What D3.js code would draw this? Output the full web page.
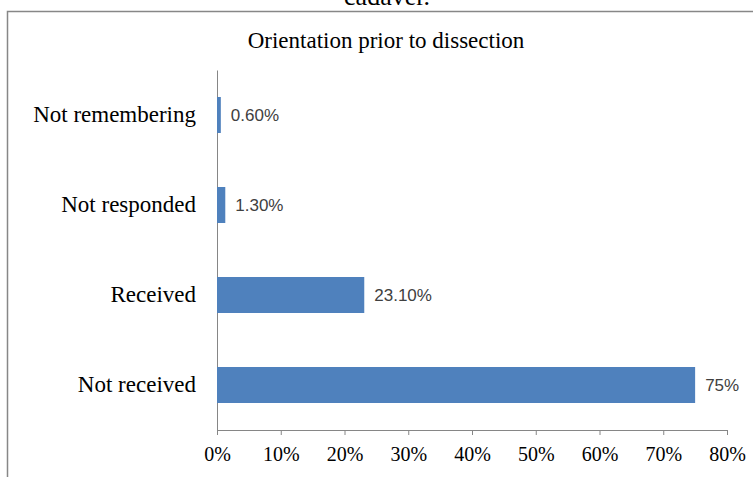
<!DOCTYPE html>
<html>
<head>
<meta charset="utf-8">
<script src="https://cdn.jsdelivr.net/npm/d3@7"></script>
<style>
    body { margin: 0; background: #fff; }
    svg { display: block; }
</style>
</head>
<body>
<svg id="barChart" width="753" height="477"></svg>
<script>
// data
var categories = ["Not remembering", "Not responded", "Received", "Not received"];
var values = [0.6, 1.3, 23.1, 75];
var valueLabels = ["0.60%", "1.30%", "23.10%", "75%"];
var ticks = [0, 10, 20, 30, 40, 50, 60, 70, 80];

(function barChart() {
    var svg = d3.select("#barChart");

    var left = 217, right = 727, top = 70, bottom = 430;
    var serif = "Liberation Serif, Times New Roman, serif";

    // caption from the page above, cut off at the top
    svg.append("text")
        .attr("x", 387)
        .attr("y", 5)
        .attr("text-anchor", "middle")
        .style("font-family", serif)
        .style("font-size", "26px")
        .text("cadaver.");

    // chart border
    svg.append("rect")
        .attr("x", 7.5)
        .attr("y", 11.5)
        .attr("width", 800)
        .attr("height", 500)
        .attr("fill", "none")
        .attr("stroke", "#878787")
        .attr("stroke-width", 1.5);

    svg.append("text")
        .attr("x", 386)
        .attr("y", 48)
        .attr("text-anchor", "middle")
        .style("font-family", serif)
        .style("font-size", "23px")
        .text("Orientation prior to dissection");

    var x = d3.scaleLinear().domain([0, 80]).range([left, right]);
    var y = d3.scaleBand().domain(categories).range([top, bottom])
        .paddingInner(0.6).paddingOuter(0.3);
    var band = d3.scaleBand().domain(categories).range([top, bottom]);

    // x axis
    var xAxis = svg.append("g")
        .attr("transform", "translate(0," + bottom + ")")
        .call(d3.axisBottom(x).tickValues(ticks).tickSize(5).tickSizeOuter(0)
            .tickFormat(function (d) { return d + "%"; }));
    xAxis.select(".domain").attr("stroke", "#868686");
    xAxis.selectAll(".tick line").attr("stroke", "#868686");
    xAxis.selectAll(".tick text")
        .attr("y", 25)
        .attr("dy", "0.32em")
        .attr("fill", "#000")
        .style("font-family", serif)
        .style("font-size", "20px");

    // y axis (line only, labels drawn on the left)
    var yAxis = svg.append("g")
        .attr("transform", "translate(" + left + ",0)")
        .call(d3.axisLeft(band).tickSize(0).tickPadding(21).tickSizeOuter(0));
    yAxis.select(".domain").attr("stroke", "#868686");
    yAxis.selectAll(".tick text")
        .attr("fill", "#000")
        .style("font-family", serif)
        .style("font-size", "23px");

    svg.selectAll(".bar")
        .data(values)
        .enter().append("rect")
        .attr("class", "bar")
        .attr("x", x(0))
        .attr("y", function (d, i) { return y(categories[i]); })
        .attr("width", function (d) { return x(d) - x(0); })
        .attr("height", y.bandwidth())
        .attr("fill", "#4F81BD");

    svg.selectAll(".val")
        .data(values)
        .enter().append("text")
        .attr("class", "val")
        .attr("x", function (d) { return x(d) + 10; })
        .attr("y", function (d, i) { return y(categories[i]) + y.bandwidth() / 2; })
        .attr("dy", "0.35em")
        .attr("fill", "#404040")
        .style("font-family", "Liberation Sans, Arial, sans-serif")
        .style("font-size", "17px")
        .text(function (d, i) { return valueLabels[i]; });
}());
</script>
</body>
</html>
